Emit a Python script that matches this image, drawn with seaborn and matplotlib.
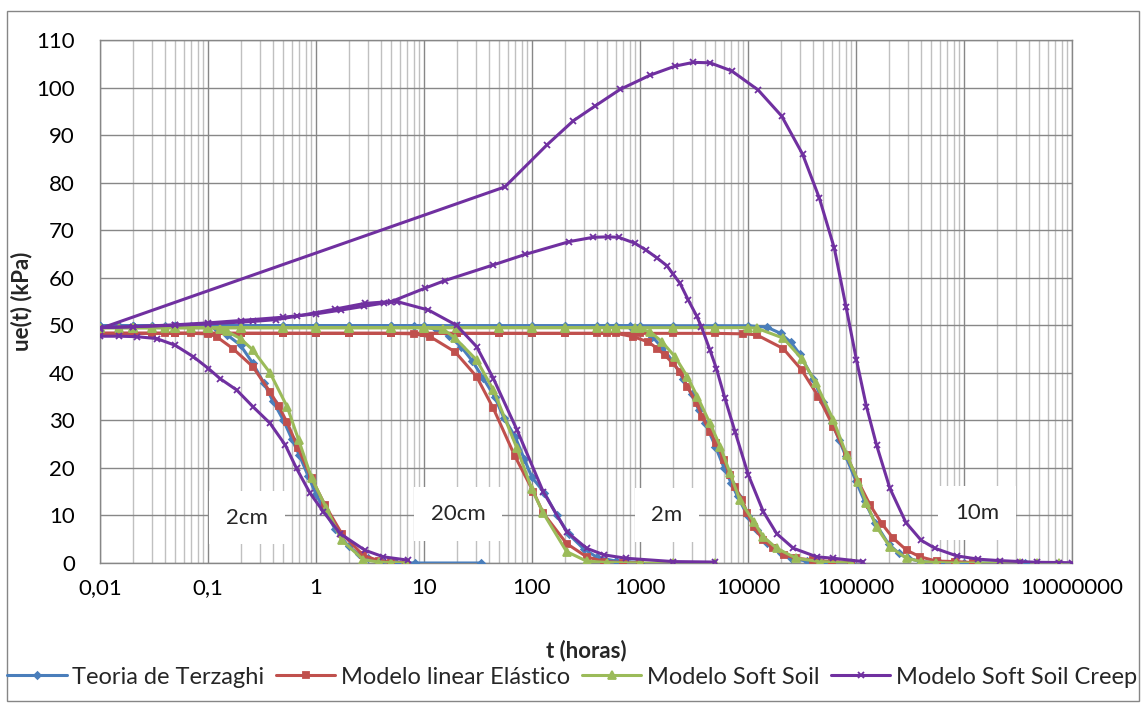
import matplotlib
matplotlib.use("Agg")
import numpy as np
import pandas as pd
import matplotlib.pyplot as plt
import seaborn as sns
from matplotlib.lines import Line2D
from matplotlib.patches import Rectangle
from matplotlib.ticker import LogLocator, FixedLocator, FuncFormatter, NullFormatter

sns.set_theme(style="white")
plt.rcParams['font.family'] = ['Lato', 'DejaVu Sans']

# ---------------- data ----------------
MODELS = ["Teoria de Terzaghi", "Modelo linear Elástico", "Modelo Soft Soil", "Modelo Soft Soil Creep"]
THICKNESSES = ["2cm", "20cm", "2m", "10m"]

# Teoria de Terzaghi
T_TERZ_2CM = [0.01, 0.015, 0.02, 0.03, 0.04, 0.05, 0.07, 0.1, 0.12, 0.15, 0.2, 0.26, 0.33, 0.4, 0.5, 0.6,
              0.7, 0.85, 1.0, 1.2, 1.5, 2.0, 2.5, 3.0, 4.0, 5.5, 8.3, 33.7]
U_TERZ_2CM = [49.9, 49.9, 49.9, 49.9, 49.9, 49.9, 49.9, 49.8, 49.3, 48.0, 45.8, 42.0, 37.8, 34.0, 30.0, 26.0,
              22.7, 18.2, 14.5, 11.0, 7.2, 3.5, 1.8, 1.0, 0.35, 0.1, 0.0, 0.0]
T_TERZ_20CM = [0.01, 0.02, 0.03, 0.05, 0.1, 0.2, 0.5, 1, 2, 5, 8, 10, 13, 17, 22, 28, 35, 45, 55, 70, 85, 100,
               130, 170, 220, 300, 400, 600, 1000]
U_TERZ_20CM = [49.9, 49.9, 49.9, 49.9, 49.9, 49.9, 49.9, 49.9, 49.9, 49.9, 49.9, 49.7, 49.2, 47.8, 45.5, 42.5,
               39.0, 35.0, 30.5, 26.5, 21.8, 18.0, 14.8, 10.0, 6.0, 3.0, 1.2, 0.4, 0.1]
T_TERZ_2M = [0.01, 0.02, 0.05, 0.1, 0.2, 0.5, 1, 2, 5, 10, 20, 50, 100, 200, 400, 600, 800, 1000, 1300, 1600,
             2000, 2500, 3000, 3500, 4000, 5000, 6000, 7000, 8000, 10000, 12000, 15000, 20000, 25000, 35000,
             50000, 90000]
U_TERZ_2M = [49.9, 49.9, 49.9, 49.9, 49.9, 49.9, 49.9, 49.9, 49.9, 49.9, 49.9, 49.9, 49.9, 49.9, 49.9, 49.9,
             49.9, 49.3, 47.6, 45.3, 42.5, 38.8, 35.5, 32.2, 29.5, 24.5, 20.0, 16.8, 14.0, 9.8, 7.0, 4.3, 2.0,
             1.0, 0.4, 0.1, 0.0]
T_TERZ_10M = [0.01, 0.02, 0.05, 0.1, 0.2, 0.5, 1, 2, 5, 10, 20, 50, 100, 200, 500, 1000, 2000, 5000, 10000,
              15000, 20000, 25000, 30000, 40000, 50000, 60000, 70000, 80000, 100000, 120000, 150000, 200000,
              250000, 300000, 400000, 600000, 1000000, 3700000]
U_TERZ_10M = [49.9, 49.9, 49.9, 49.9, 49.9, 49.9, 49.9, 49.9, 49.9, 49.9, 49.9, 49.9, 49.9, 49.9, 49.9, 49.9,
              49.9, 49.9, 49.9, 49.6, 48.3, 46.4, 44.0, 38.8, 33.8, 29.5, 25.8, 22.6, 17.2, 13.0, 8.5, 4.0,
              2.0, 1.0, 0.3, 0.1, 0.0, 0.0]

# Modelo linear Elástico
T_LIN_2CM = [0.01, 0.015, 0.02, 0.03, 0.04, 0.05, 0.07, 0.1, 0.12, 0.17, 0.26, 0.375, 0.45, 0.536, 0.686,
             0.91, 1.21, 1.73, 2.74, 3.8, 5.0, 6.8]
U_LIN_2CM = [48.3, 48.3, 48.3, 48.3, 48.3, 48.3, 48.3, 48.2, 47.6, 45.1, 41.3, 36.0, 33.0, 29.7, 24.1,
             17.8, 12.2, 6.2, 1.6, 0.5, 0.2, 0.1]
T_LIN_20CM = [0.01, 0.02, 0.03, 0.05, 0.1, 0.2, 0.5, 1, 2, 5, 8, 11.4, 19.4, 30.7, 43.9, 69.7, 103, 127, 209,
              320, 466, 700, 1000]
U_LIN_20CM = [48.3, 48.3, 48.3, 48.3, 48.3, 48.3, 48.3, 48.3, 48.3, 48.3, 48.2, 47.6, 44.4, 39.2, 32.5, 22.4,
              15.0, 10.5, 4.1, 1.3, 0.3, 0.1, 0.0]
T_LIN_2M = [0.01, 0.02, 0.05, 0.1, 0.2, 0.5, 1, 2, 5, 10, 20, 50, 100, 200, 400, 600, 867, 1190, 1450, 1700,
            2020, 2350, 2740, 3340, 3780, 4440, 5100, 5950, 6820, 7590, 8850, 9830, 11300, 13900, 17000,
            21700, 28000, 40000, 60000, 90000]
U_LIN_2M = [48.3, 48.3, 48.3, 48.3, 48.3, 48.3, 48.3, 48.3, 48.3, 48.3, 48.3, 48.3, 48.3, 48.3, 48.3, 48.3,
            47.6, 46.5, 45.1, 43.7, 42.0, 40.2, 37.1, 33.6, 30.8, 27.6, 25.2, 21.7, 18.5, 16.0, 13.2, 10.5,
            7.6, 4.8, 3.1, 1.7, 1.0, 0.6, 0.3, 0.1]
T_LIN_10M = [0.01, 0.02, 0.05, 0.1, 0.2, 0.5, 1, 2, 5, 10, 20, 50, 100, 200, 500, 1000, 2000, 5000, 9000,
             12000, 21200, 31400, 44900, 61600, 81900, 105000, 135000, 173000, 221000, 294000, 392000,
             557000, 826000, 1200000]
U_LIN_10M = [48.3, 48.3, 48.3, 48.3, 48.3, 48.3, 48.3, 48.3, 48.3, 48.3, 48.3, 48.3, 48.3, 48.3, 48.3, 48.3,
             48.3, 48.3, 48.2, 48.0, 45.1, 40.6, 35.0, 28.7, 22.7, 17.1, 12.2, 8.3, 5.2, 2.7, 1.3, 0.4, 0.3, 0.1]

# Modelo Soft Soil
T_SS_2CM = [0.01, 0.015, 0.02, 0.03, 0.04, 0.05, 0.07, 0.1, 0.13, 0.15, 0.2, 0.26, 0.375, 0.54, 0.69, 0.91,
            1.25, 1.73, 2.74, 3.8, 5.0, 6.8]
U_SS_2CM = [49.5, 49.5, 49.5, 49.5, 49.5, 49.5, 49.5, 49.5, 49.3, 48.7, 47.2, 44.8, 40.0, 32.9, 25.9, 17.9,
            11.5, 4.8, 0.7, 0.2, 0.1, 0.0]
T_SS_20CM = [0.01, 0.02, 0.03, 0.05, 0.1, 0.2, 0.5, 1, 2, 5, 10, 15, 19.4, 30.7, 43.9, 72.6, 100, 127, 209,
             320, 500, 1000, 2020, 4950]
U_SS_20CM = [49.5, 49.5, 49.5, 49.5, 49.5, 49.5, 49.5, 49.5, 49.5, 49.5, 49.5, 49.2, 47.3, 42.7, 36.4, 24.1,
             15.5, 10.5, 2.4, 0.4, 0.1, 0.0, 0.0, 0.0]
T_SS_2M = [0.01, 0.02, 0.05, 0.1, 0.2, 0.5, 1, 2, 5, 10, 20, 50, 100, 200, 400, 600, 900, 1250, 1600, 2110,
           2740, 3400, 4440, 5540, 6820, 8400, 11300, 13900, 18400, 28000, 46000, 90000]
U_SS_2M = [49.5, 49.5, 49.5, 49.5, 49.5, 49.5, 49.5, 49.5, 49.5, 49.5, 49.5, 49.5, 49.5, 49.5, 49.5, 49.5,
           49.5, 48.6, 46.5, 43.4, 39.2, 35.0, 29.4, 24.5, 18.9, 13.2, 8.7, 5.5, 3.1, 1.0, 0.3, 0.0]
T_SS_10M = [0.01, 0.02, 0.05, 0.1, 0.2, 0.5, 1, 2, 5, 10, 20, 50, 100, 200, 500, 1000, 2000, 5000, 10000,
            12000, 21200, 31400, 42600, 61600, 82000, 105000, 125000, 155000, 206000, 294000, 400000,
            550000, 850000, 1360000, 2150000, 3300000, 4700000, 7500000]
U_SS_10M = [49.5, 49.5, 49.5, 49.5, 49.5, 49.5, 49.5, 49.5, 49.5, 49.5, 49.5, 49.5, 49.5, 49.5, 49.5, 49.5,
            49.5, 49.5, 49.5, 49.4, 47.3, 43.0, 37.8, 30.1, 22.7, 17.1, 12.6, 7.6, 3.4, 1.0, 0.3, 0.1, 0.0,
            0.0, 0.0, 0.0, 0.0, 0.0]

# Modelo Soft Soil Creep
T_SSC_2CM = [0.01, 0.015, 0.022, 0.0335, 0.0496, 0.073, 0.101, 0.129, 0.184, 0.26, 0.375, 0.52, 0.66, 0.88,
             1.17, 1.67, 2.83, 4.2, 7.1]
U_SSC_2CM = [47.7, 47.7, 47.6, 47.2, 45.8, 43.4, 40.9, 38.8, 36.4, 32.9, 29.4, 24.8, 19.9, 14.7, 10.8, 6.2,
             2.7, 1.3, 0.6]
T_SSC_20CM = [0.01, 0.02, 0.05, 0.1, 0.2, 0.5, 1.0, 1.7, 2.8, 4.3, 5.6, 11.0, 20, 30.7, 43.9, 72.6, 127, 209,
              320, 466, 740, 2020, 4950]
U_SSC_20CM = [49.5, 49.7, 50.1, 50.5, 51.0, 51.7, 52.4, 53.2, 54.0, 54.7, 55.0, 53.2, 50.0, 45.5, 38.8, 28.0,
              15.0, 6.6, 3.1, 1.7, 1.0, 0.3, 0.2]
T_SSC_2M = [0.01, 0.02, 0.05, 0.1, 0.26, 0.43, 0.66, 1.5, 2.83, 5.0, 10.2, 15.6, 43.9, 86.4, 222, 367, 506,
            633, 890, 1140, 1450, 1780, 2020, 2350, 2800, 3340, 3700, 4440, 5100, 6120, 7590, 10080, 13860,
            18400, 26300, 43200, 61700, 116000]
U_SSC_2M = [49.5, 49.7, 50.0, 50.3, 50.8, 51.2, 51.9, 53.4, 54.6, 55.0, 57.8, 59.4, 62.7, 64.9, 67.6, 68.5,
            68.6, 68.5, 67.3, 65.8, 64.1, 62.5, 60.8, 58.8, 55.3, 52.0, 49.7, 44.8, 40.9, 34.6, 27.6, 18.5,
            10.8, 6.2, 3.1, 1.3, 1.0, 0.3]
T_SSC_10M = [0.01, 56, 137, 241, 383, 653, 1240, 2110, 3120, 4450, 7060, 12400, 20500, 32000, 45700, 63000,
             80800, 101000, 125000, 155000, 206000, 290000, 400000, 538000, 855000, 1360000, 2150000,
             3300000, 4700000, 7500000, 10000000]
U_SSC_10M = [49.3, 79.1, 87.9, 93.0, 96.1, 99.6, 102.6, 104.5, 105.3, 105.2, 103.5, 99.5, 94.0, 86.0, 76.8,
             66.2, 53.9, 42.7, 32.9, 24.8, 15.7, 8.5, 4.8, 3.1, 1.5, 0.8, 0.5, 0.3, 0.15, 0.1, 0.05]

X_TICKS = [0.01, 0.1, 1, 10, 100, 1000, 10000, 100000, 1000000, 10000000]
Y_TICKS = [0, 10, 20, 30, 40, 50, 60, 70, 80, 90, 100, 110]

# label placements (t, ue) for the thickness boxes
LABEL_T = [0.23, 20.6, 1780, 1.32e6]
LABEL_U = [9.5, 10.3, 10.1, 10.5]

CURVES = {
    "Teoria de Terzaghi": [(T_TERZ_2CM, U_TERZ_2CM), (T_TERZ_20CM, U_TERZ_20CM), (T_TERZ_2M, U_TERZ_2M), (T_TERZ_10M, U_TERZ_10M)],
    "Modelo linear Elástico": [(T_LIN_2CM, U_LIN_2CM), (T_LIN_20CM, U_LIN_20CM), (T_LIN_2M, U_LIN_2M), (T_LIN_10M, U_LIN_10M)],
    "Modelo Soft Soil": [(T_SS_2CM, U_SS_2CM), (T_SS_20CM, U_SS_20CM), (T_SS_2M, U_SS_2M), (T_SS_10M, U_SS_10M)],
    "Modelo Soft Soil Creep": [(T_SSC_2CM, U_SSC_2CM), (T_SSC_20CM, U_SSC_20CM), (T_SSC_2M, U_SSC_2M), (T_SSC_10M, U_SSC_10M)],
}

rows = []
for model in MODELS:
    for esp, (tt, uu) in zip(THICKNESSES, CURVES[model]):
        for ti, ui in zip(tt, uu):
            rows.append((model, esp, ti, ui))
df = pd.DataFrame(rows, columns=["modelo", "espessura", "t", "ue"])

STYLE = {
    "Teoria de Terzaghi": dict(color="#4A7EBB", marker="D", ms=3.5),
    "Modelo linear Elástico": dict(color="#C0504D", marker="s", ms=5),
    "Modelo Soft Soil": dict(color="#9BBB59", marker="^", ms=6),
    "Modelo Soft Soil Creep": dict(color="#7030A0", marker="x", ms=5),
}

# ---------------- figure ----------------
W, H = 1145, 706
fig = plt.figure(figsize=(W / 100, H / 100), dpi=100)
ax = fig.add_axes([100 / W, 1 - 563 / H, 972 / W, 523 / H])
ax.set_xscale("log")

for model in MODELS:
    st = STYLE[model]
    sub = df[df["modelo"] == model]
    sns.lineplot(data=sub, x="t", y="ue", units="espessura", estimator=None,
                 color=st["color"], marker=st["marker"], markersize=st["ms"],
                 markeredgecolor=st["color"], markeredgewidth=1.3, linewidth=2.2,
                 legend=False, ax=ax, zorder=3)

ax.set_xlim(0.01, 1e7)
ax.set_ylim(0, 110)
ax.xaxis.set_major_locator(FixedLocator(X_TICKS))
ax.xaxis.set_minor_locator(LogLocator(base=10, subs=np.arange(2, 10), numticks=100))
ax.xaxis.set_minor_formatter(NullFormatter())


def xfmt(v, pos):
    if v < 1:
        return f"{v:g}".replace(".", ",")
    return f"{int(round(v))}"


ax.xaxis.set_major_formatter(FuncFormatter(xfmt))
ax.yaxis.set_major_locator(FixedLocator(Y_TICKS))

ax.set_axisbelow(True)
ax.grid(which="major", axis="both", color="#878787", linewidth=1.0)
ax.grid(which="minor", axis="x", color="#C0C0C0", linewidth=1.0)
for s in ax.spines.values():
    s.set_color("#878787")
    s.set_linewidth(1.0)

ax.tick_params(axis="both", which="both", length=0, labelsize=16, colors="black")
ax.tick_params(axis="y", pad=18)
ax.tick_params(axis="x", pad=11)

ax.set_xlabel("t (horas)", fontsize=16, fontweight="bold", labelpad=30)
ax.set_ylabel("ue(t) (kPa)", fontsize=16, fontweight="bold", labelpad=3)

for lab, lt, lu in zip(THICKNESSES, LABEL_T, LABEL_U):
    ax.text(lt, lu, lab, ha="center", va="center", fontsize=16, zorder=1.5,
            bbox=dict(facecolor="white", edgecolor="none", boxstyle="square,pad=0.75"))

handles = [Line2D([], [], color=STYLE[m]["color"], marker=STYLE[m]["marker"], markersize=STYLE[m]["ms"],
                  markeredgecolor=STYLE[m]["color"], markeredgewidth=1.3, linewidth=2.2) for m in MODELS]
fig.legend(handles, MODELS, loc="center", bbox_to_anchor=(0.5, 1 - 677 / H), ncol=4, frameon=False,
           fontsize=17, handlelength=2.5, handletextpad=0.25, columnspacing=0.5)

fig.patches.append(Rectangle((7 / W, 1 - 701 / H), (1139 - 7) / W, (701 - 11) / H, transform=fig.transFigure,
                             fill=False, edgecolor="#868686", linewidth=1.0))

fig.savefig("out.png", dpi=100, facecolor="white")
